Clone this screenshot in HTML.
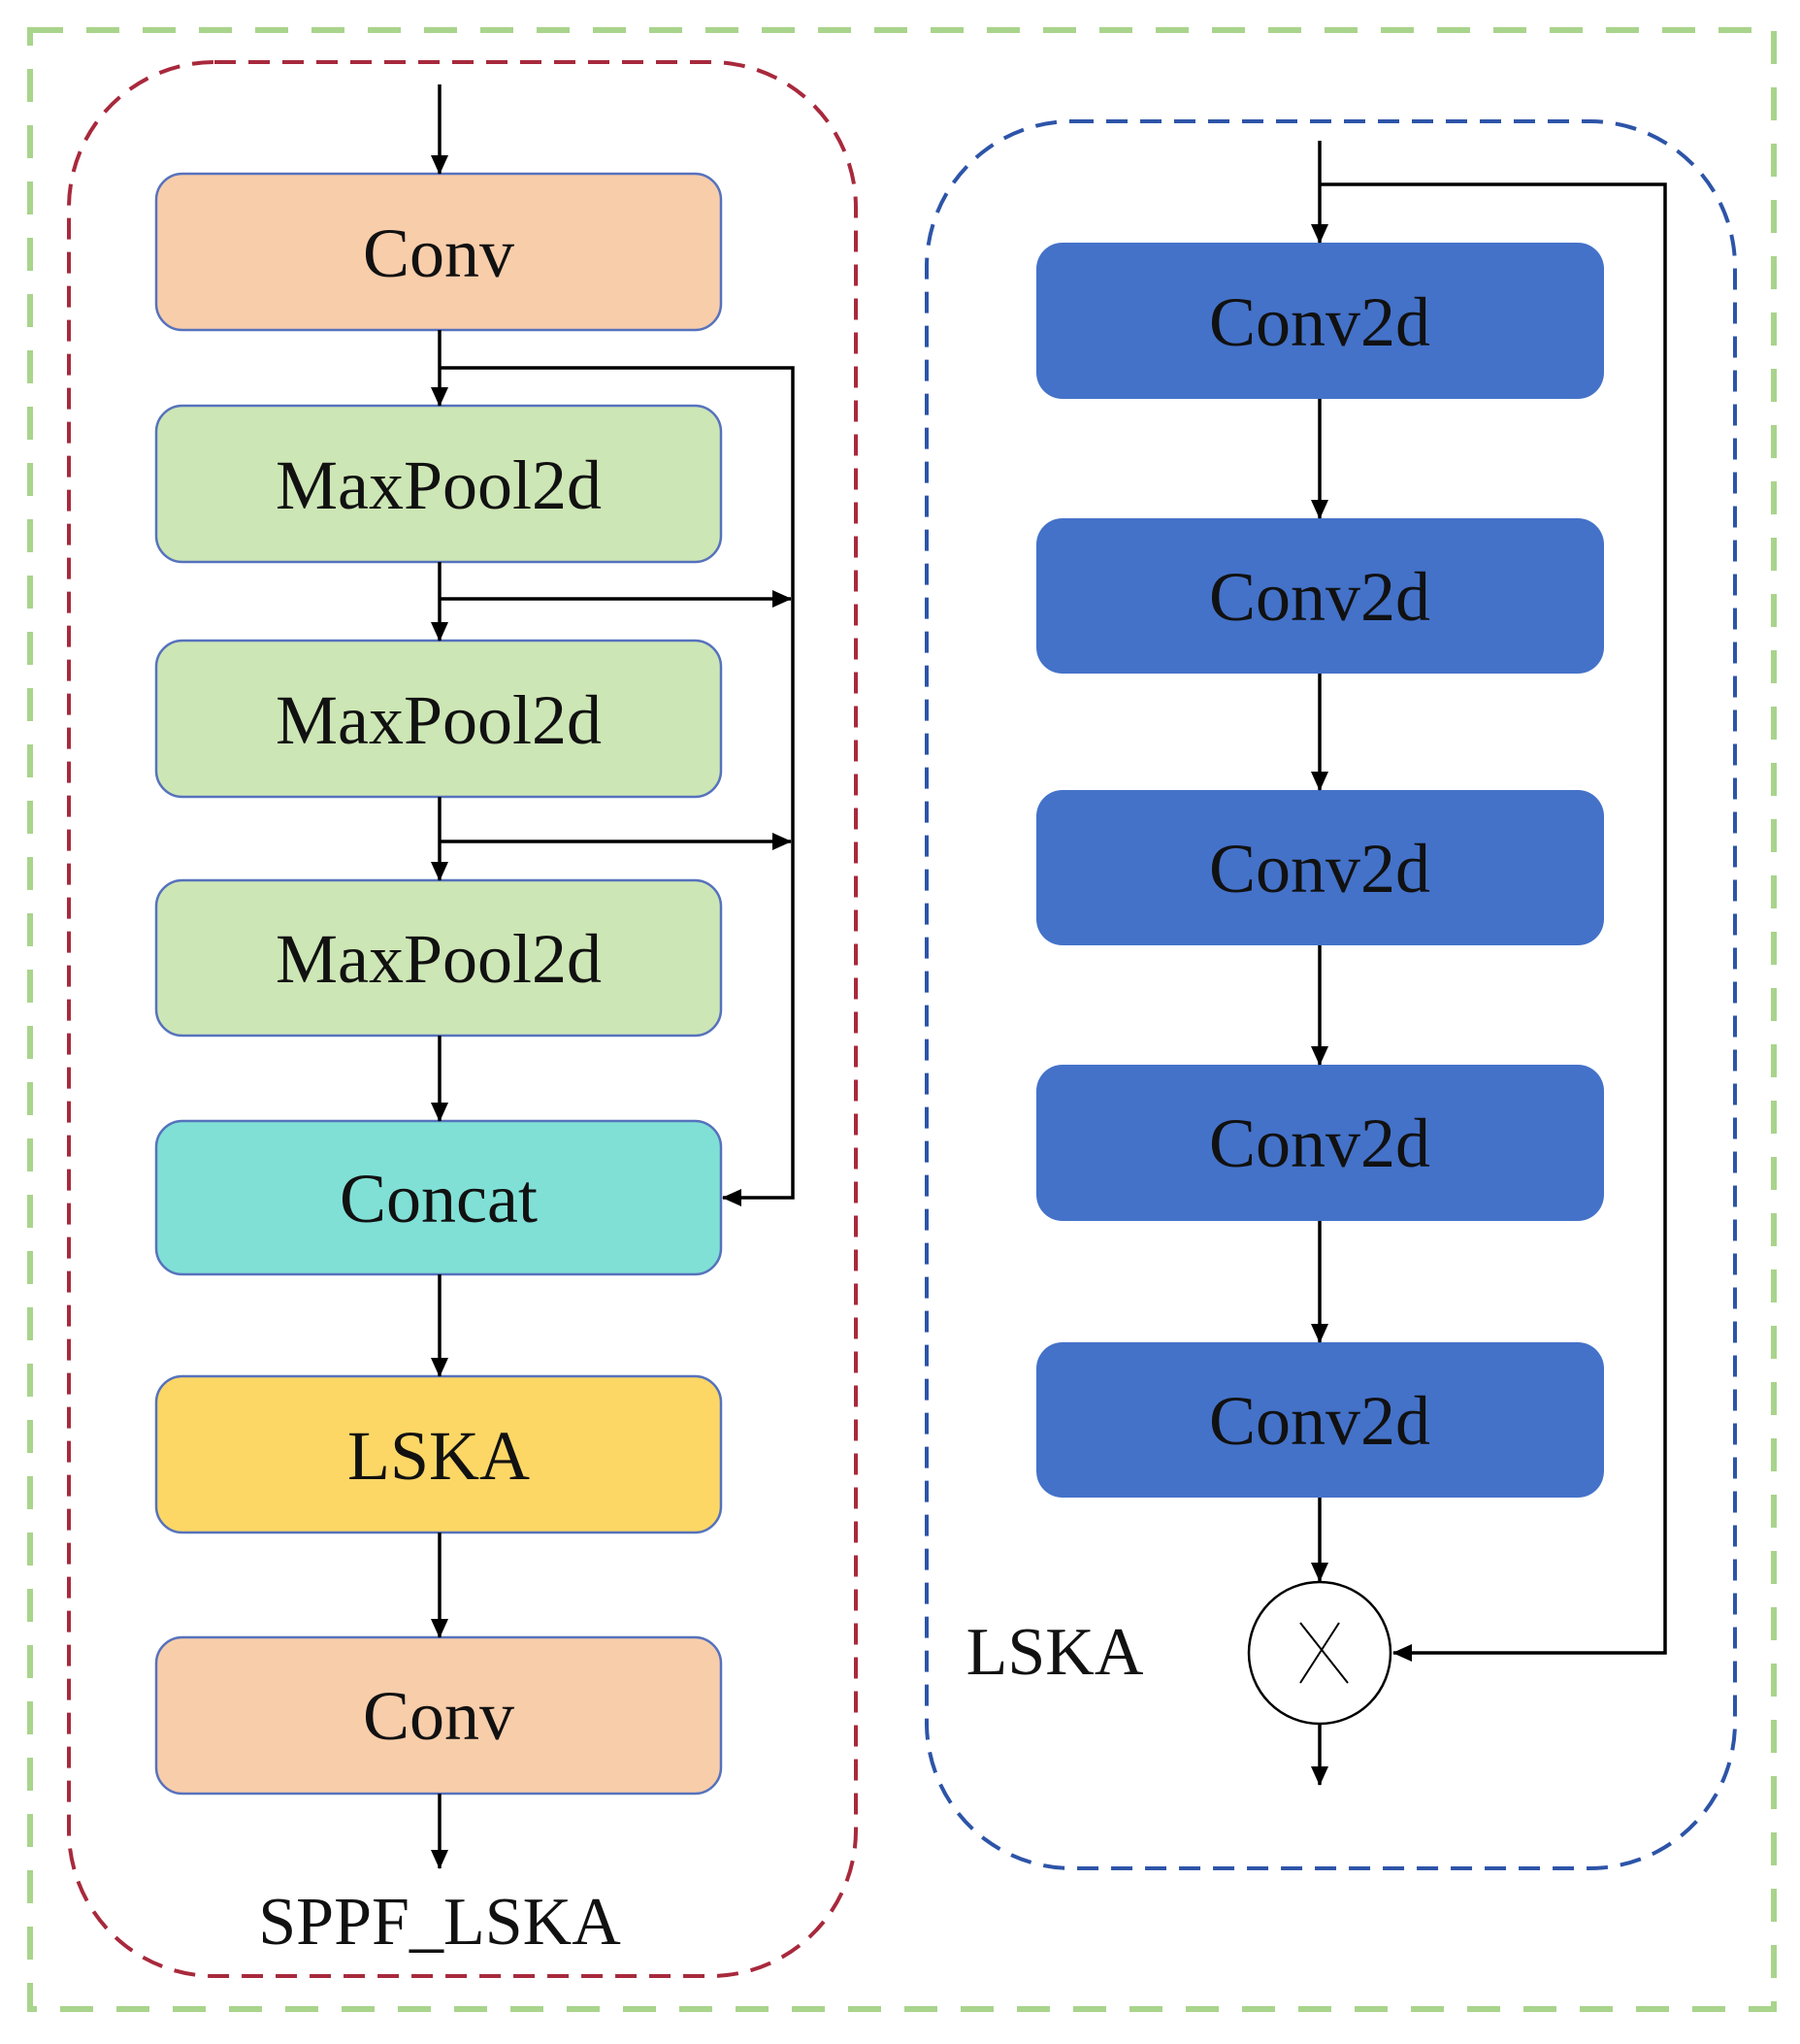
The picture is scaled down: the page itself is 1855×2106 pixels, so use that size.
<!DOCTYPE html>
<html><head><meta charset="utf-8"><style>html,body{margin:0;padding:0;background:#fff}svg{display:block}</style></head>
<body>
<svg width="1855" height="2106" viewBox="0 0 1855 2106" xmlns="http://www.w3.org/2000/svg" font-family="Liberation Serif, serif">
<defs>
<marker id="a" markerWidth="20" markerHeight="18" refX="19" refY="9" orient="auto" markerUnits="userSpaceOnUse">
<path d="M0,0 L20,9 L0,18 Z" fill="#000"/></marker>
</defs>
<rect x="31" y="31" width="1797" height="2039" fill="none" stroke="#a9d48c" stroke-width="6" stroke-dasharray="34,24"/>
<rect x="71" y="64" width="811" height="1972" rx="150" fill="none" stroke="#a8293c" stroke-width="4" stroke-dasharray="22,13"/>
<rect x="955" y="125" width="833" height="1800" rx="150" fill="none" stroke="#2d54a8" stroke-width="4" stroke-dasharray="22,13"/>
<g stroke="#5672bd" stroke-width="2.5">
<rect x="161" y="179" width="582" height="161" rx="27" fill="#f8cdaa"/>
<rect x="161" y="418" width="582" height="161" rx="27" fill="#cde6b5"/>
<rect x="161" y="660" width="582" height="161" rx="27" fill="#cde6b5"/>
<rect x="161" y="907" width="582" height="160" rx="27" fill="#cde6b5"/>
<rect x="161" y="1155" width="582" height="158" rx="27" fill="#80e0d6"/>
<rect x="161" y="1418" width="582" height="161" rx="27" fill="#fcd765"/>
<rect x="161" y="1687" width="582" height="161" rx="27" fill="#f8cdaa"/>
</g>
<g fill="#4472c9">
<rect x="1068" y="250" width="585" height="161" rx="27"/>
<rect x="1068" y="534" width="585" height="160" rx="27"/>
<rect x="1068" y="814" width="585" height="160" rx="27"/>
<rect x="1068" y="1097" width="585" height="161" rx="27"/>
<rect x="1068" y="1383" width="585" height="160" rx="27"/>
</g>
<g font-size="72" text-anchor="middle" fill="#111">
<text x="452" y="285">Conv</text>
<text x="452" y="524">MaxPool2d</text>
<text x="452" y="766">MaxPool2d</text>
<text x="452" y="1012">MaxPool2d</text>
<text x="452" y="1259">Concat</text>
<text x="452" y="1524">LSKA</text>
<text x="452" y="1792">Conv</text>
<text x="1360" y="356">Conv2d</text>
<text x="1360" y="639">Conv2d</text>
<text x="1360" y="919">Conv2d</text>
<text x="1360" y="1202">Conv2d</text>
<text x="1360" y="1488">Conv2d</text>
<text x="453" y="2003" font-size="70">SPPF_LSKA</text>
<text x="1087" y="1725" font-size="70">LSKA</text>
</g>
<g stroke="#000" stroke-width="3.5" fill="none">
<line x1="453" y1="87" x2="453" y2="179" marker-end="url(#a)"/>
<line x1="453" y1="340" x2="453" y2="418" marker-end="url(#a)"/>
<line x1="453" y1="579" x2="453" y2="660" marker-end="url(#a)"/>
<line x1="453" y1="821" x2="453" y2="907" marker-end="url(#a)"/>
<line x1="453" y1="1067" x2="453" y2="1155" marker-end="url(#a)"/>
<line x1="453" y1="1313" x2="453" y2="1418" marker-end="url(#a)"/>
<line x1="453" y1="1579" x2="453" y2="1687" marker-end="url(#a)"/>
<line x1="453" y1="1848" x2="453" y2="1925" marker-end="url(#a)"/>
<polyline points="453,379 817,379 817,1234 745,1234" marker-end="url(#a)"/>
<line x1="453" y1="617" x2="815" y2="617" marker-end="url(#a)"/>
<line x1="453" y1="867" x2="815" y2="867" marker-end="url(#a)"/>
<line x1="1360" y1="145" x2="1360" y2="250" marker-end="url(#a)"/>
<polyline points="1360,190 1716,190 1716,1703 1436,1703" marker-end="url(#a)"/>
<line x1="1360" y1="411" x2="1360" y2="534" marker-end="url(#a)"/>
<line x1="1360" y1="694" x2="1360" y2="814" marker-end="url(#a)"/>
<line x1="1360" y1="974" x2="1360" y2="1097" marker-end="url(#a)"/>
<line x1="1360" y1="1258" x2="1360" y2="1383" marker-end="url(#a)"/>
<line x1="1360" y1="1543" x2="1360" y2="1629" marker-end="url(#a)"/>
<line x1="1360" y1="1777" x2="1360" y2="1839" marker-end="url(#a)"/>
<circle cx="1360" cy="1703" r="73" stroke-width="2.5"/>
<line x1="1340" y1="1672" x2="1389" y2="1734" stroke-width="2"/>
<line x1="1380" y1="1672" x2="1340" y2="1734" stroke-width="2"/>
</g>
</svg>
</body></html>
